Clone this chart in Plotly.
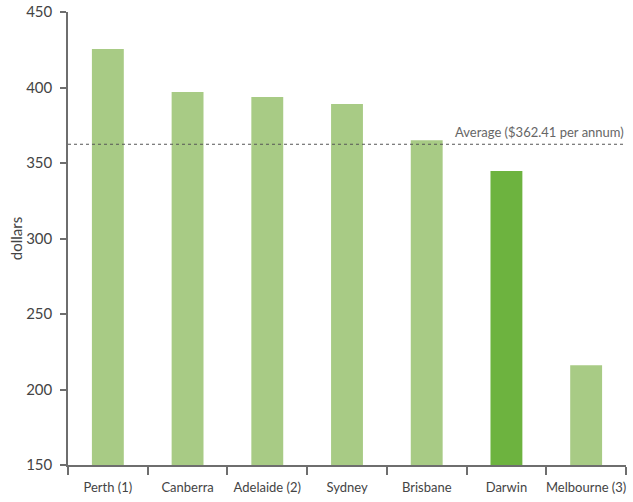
import plotly.graph_objects as go

cities = ["Perth (1)", "Canberra", "Adelaide (2)", "Sydney", "Brisbane", "Darwin", "Melbourne (3)"]
dollars = [425.5, 397, 393.7, 389, 365, 344.7, 216]
average = 362.41

light = "#a8cb85"
dark = "#6db33f"
colors = [dark if c == "Darwin" else light for c in cities]

font_family = "Lato, Open Sans, sans-serif"
text_color = "#444444"
axis_color = "#6e6e6e"

fig = go.Figure(
    go.Bar(x=cities, y=dollars, marker=dict(color=colors, line=dict(width=0)), width=0.4)
)

fig.add_shape(
    type="line", xref="paper", x0=0, x1=1, yref="y", y0=average, y1=average,
    line=dict(color="#555555", width=1, dash="dot"), layer="above",
)
fig.add_annotation(
    xref="paper", x=1, yref="y", y=average, xanchor="right", yanchor="bottom",
    text=f"Average (${average:.2f} per annum)", showarrow=False, yshift=2,
    font=dict(family=font_family, size=13, color="#666666"),
)

fig.update_layout(
    width=633, height=502,
    margin=dict(l=68, r=7, t=12, b=37),
    paper_bgcolor="white", plot_bgcolor="white",
    showlegend=False,
    font=dict(family=font_family, color=text_color),
    bargap=0.6,
)
fig.update_xaxes(
    range=[-0.5, 6.5], showline=True, linecolor=axis_color, linewidth=1.5,
    ticks="outside", tickson="boundaries", ticklen=8, tickcolor=axis_color, tickwidth=1.5,
    tickangle=0, automargin=False, ticklabelstandoff=10,
    tickfont=dict(size=13, color=text_color), showgrid=False,
)
fig.update_yaxes(
    range=[150, 450], dtick=50, showline=True, linecolor=axis_color, linewidth=1.5,
    ticks="outside", ticklen=6, tickcolor=axis_color, tickwidth=1.5, automargin=False,
    ticklabelstandoff=5,
    tickfont=dict(size=15, color=text_color), showgrid=False, zeroline=False,
    title=dict(text="dollars", font=dict(size=15, color=text_color), standoff=0),
)

fig.write_html("out.html")
